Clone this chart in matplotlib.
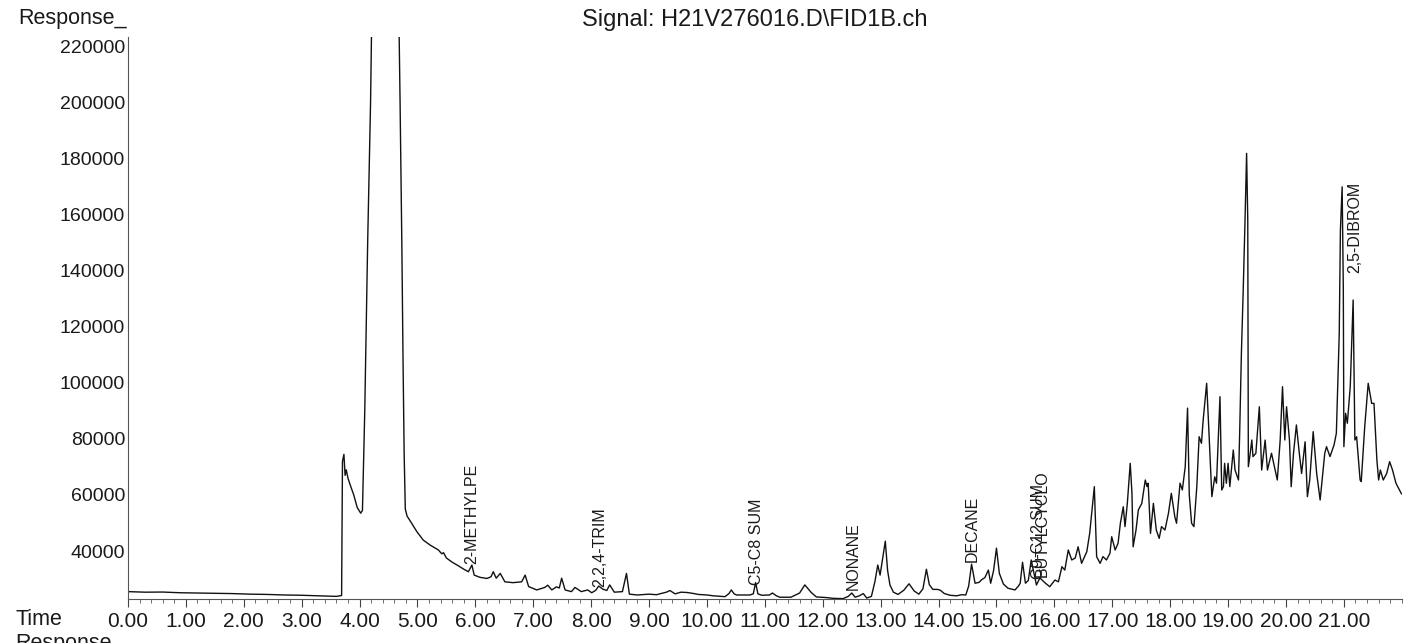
import matplotlib
matplotlib.use("Agg")
import matplotlib.pyplot as plt
from matplotlib.ticker import MultipleLocator, FuncFormatter

plt.rcParams['font.family'] = ['Liberation Sans', 'DejaVu Sans']

# Chromatogram trace: retention time (min) and response
times = [
    0.00, 0.30, 0.60, 0.90, 1.20, 1.50, 1.80, 2.10, 2.40, 2.70, 3.00, 3.30, 3.60, 3.69,
    3.705, 3.73, 3.75, 3.77, 3.80, 3.84, 3.90, 3.96, 4.02, 4.05, 4.09, 4.14, 4.19, 4.23,
    4.45, 4.66, 4.70, 4.73, 4.75, 4.77, 4.79,
    4.82, 4.90, 4.99, 5.10, 5.22, 5.36, 5.42, 5.45, 5.50, 5.60, 5.70, 5.80, 5.88, 5.94,
    5.98, 6.08, 6.20, 6.27, 6.31, 6.36, 6.43, 6.51, 6.65, 6.80, 6.86, 6.92, 7.06, 7.20,
    7.25, 7.32, 7.40, 7.45, 7.49, 7.55, 7.66, 7.72, 7.83, 7.94, 8.01, 8.08, 8.13, 8.20,
    8.27, 8.32, 8.40, 8.54, 8.61, 8.66, 8.80, 9.00, 9.13, 9.22, 9.30, 9.36, 9.45, 9.55,
    9.65, 9.75, 9.85, 10.00, 10.11, 10.31, 10.38, 10.42, 10.47, 10.51, 10.74, 10.80,
    10.84, 10.88, 10.95, 11.08, 11.13, 11.20, 11.26, 11.45, 11.60, 11.69, 11.80, 11.89,
    12.05, 12.18, 12.35, 12.44, 12.50, 12.56, 12.63, 12.70, 12.76, 12.84, 12.90, 12.95,
    12.99, 13.04, 13.08, 13.12, 13.16, 13.22, 13.30, 13.40, 13.49, 13.58, 13.66, 13.73,
    13.79, 13.84, 13.90, 13.98, 14.03, 14.10, 14.20, 14.31, 14.40, 14.47, 14.52, 14.57,
    14.63, 14.70, 14.74, 14.80, 14.86, 14.90, 14.95, 15.00, 15.05, 15.12, 15.20, 15.32,
    15.38, 15.41, 15.45, 15.50, 15.55, 15.60, 15.69, 15.75, 15.84, 15.92, 16.01, 16.07,
    16.13, 16.18, 16.24, 16.30, 16.36, 16.41, 16.47, 16.56, 16.61, 16.69, 16.73, 16.79,
    16.84, 16.90, 16.96, 16.99, 17.05, 17.10, 17.14, 17.19, 17.22, 17.26, 17.31, 17.34,
    17.36, 17.41, 17.45, 17.51, 17.57, 17.60, 17.62, 17.66, 17.71, 17.76, 17.81, 17.85,
    17.91, 17.97, 18.02, 18.08, 18.11, 18.17, 18.21, 18.26, 18.30, 18.33, 18.37, 18.41,
    18.46, 18.50, 18.54, 18.57, 18.63, 18.66, 18.72, 18.77, 18.80, 18.86, 18.89, 18.92,
    18.94, 18.97, 19.00, 19.03, 19.09, 19.12, 19.18, 19.20, 19.23, 19.26, 19.29, 19.32,
    19.34, 19.35, 19.38, 19.41, 19.43, 19.48, 19.54, 19.58, 19.64, 19.68, 19.75, 19.85,
    19.90, 19.94, 19.98, 20.01, 20.06, 20.09, 20.13, 20.18, 20.23, 20.27, 20.33, 20.37,
    20.41, 20.47, 20.53, 20.59, 20.63, 20.67, 20.70, 20.76, 20.83, 20.87, 20.92, 20.94,
    20.97, 20.99, 21.00, 21.03, 21.06, 21.11, 21.16, 21.19, 21.22, 21.28, 21.30, 21.33,
    21.36, 21.42, 21.48, 21.52, 21.57, 21.60, 21.63, 21.68, 21.74, 21.79, 21.84, 21.90,
    21.99, 22.05,
]
response = [
    25500, 25300, 25350, 25100, 25000, 24900, 24800, 24600, 24500, 24300, 24200, 24000, 23800, 24100,
    72000, 74500, 67000, 69000, 66000, 63500, 60000, 55500, 53500, 54500, 90000, 150000, 200000, 260000,
    900000, 260000, 200000, 150000, 110000, 75000, 55000,
    52500, 49900, 46900, 43900, 42100, 40400, 39000, 39400, 37500, 36000, 34800, 33500, 32600, 35000,
    31400, 30600, 30200, 30800, 32600, 30300, 32000, 29000, 28700, 29000, 31400, 27300, 26100, 27000,
    27800, 26100, 27200, 26800, 30300, 26100, 25500, 27000, 25500, 26100, 25100, 26000, 27500, 26400,
    25900, 27900, 25300, 25500, 32000, 24600, 24300, 24600, 24400, 24900, 25300, 25900, 24700, 25300,
    25200, 24900, 24500, 24300, 24000, 23700, 24800, 26100, 24700, 24300, 24300, 24700,
    28700, 24700, 24200, 24300, 25000, 24000, 23500, 23500, 25000, 27900, 25200, 23600,
    23400, 23100, 23000, 23800, 25000, 23500, 24000, 24800, 23200, 23800, 29000, 35000,
    31400, 38000, 43500, 33000, 27900, 25300, 24500, 26000, 28300, 25700, 24600, 26500,
    33500, 28000, 26300, 26300, 26000, 24800, 24200, 24000, 24400, 24300, 27500, 35300,
    28500, 28800, 29700, 30500, 33200, 28500, 33000, 41000, 32000, 28200, 26700, 26100,
    27500, 28500, 36000, 28500, 29500, 36800, 27860, 30400, 28600, 27260, 29650, 29000,
    34400, 33200, 40360, 36800, 37500, 41500, 35600, 39750, 46300, 62950, 37970, 35600,
    38000, 36800, 39200, 45100, 40360, 42750, 49900, 55800, 48700, 57000, 71300, 60600,
    41500, 47500, 54640, 57000, 65350, 63000, 64200, 46300, 57000, 47500, 44500, 48700,
    47500, 53450, 60600, 52250, 49900, 64200, 61800, 70100, 91000, 60000, 49900, 48700,
    63000, 80800, 78450, 86770, 99870, 86770, 59400, 66500, 64200, 95100, 61780, 63000,
    71300, 64170, 71300, 63000, 76060, 68900, 65350, 82000, 110580, 132000, 155800, 181950,
    158200, 70100, 74500, 79630, 73700, 74900, 91500, 68900, 79600, 68900, 74900, 65350,
    79630, 98650, 79630, 91500, 79630, 62950, 74900, 85000, 74900, 67700, 79000, 59400,
    65350, 82600, 67700, 58200, 66500, 74900, 77240, 73700, 77850, 82000, 117700, 154600,
    170000, 134350, 77240, 89160, 85600, 98650, 129600, 79630, 80800, 65350, 64800, 74900,
    84400, 99870, 92700, 92700, 72500, 65350, 68900, 65350, 67700, 71900, 68900, 64170,
    60600, 59400,
]

# Peak annotations: name, retention time, response where the label starts
peak_names = ['2-METHYLPE', '2,2,4-TRIM', 'C5-C8 SUM', 'NONANE', 'DECANE',
              'C9-C12 SUM', 'BUTYLCYCLO', '2,5-DIBROM']
peak_times = [5.94, 8.15, 10.86, 12.52, 14.58, 15.72, 15.79, 21.19]
peak_label_base = [35500, 27150, 27860, 26080, 36070, 30000, 30700, 139250]

x_ticks = [float(i) for i in range(22)]
y_ticks = [40000, 60000, 80000, 100000, 120000, 140000, 160000, 180000, 200000, 220000]

fig = plt.figure(figsize=(14.06, 6.43), dpi=100)
ax = fig.add_axes([0.091, 0.0684, 0.906, 0.8741])

ax.plot(times, response, color='#111111', linewidth=1.0)
ax.set_xlim(0, 22)
ax.set_ylim(22860, 223500)

for name, t, base in zip(peak_names, peak_times, peak_label_base):
    ax.text(t, base, name, rotation=90, ha='center', va='bottom',
            fontsize=11.5, color='#1a1a1a')

ax.set_xticks(x_ticks)
ax.xaxis.set_major_formatter(FuncFormatter(lambda v, p: f"{v:.2f}"))
ax.xaxis.set_minor_locator(MultipleLocator(0.2))
ax.set_yticks(y_ticks)
ax.yaxis.set_major_formatter(FuncFormatter(lambda v, p: f"{int(v)}"))

ax.tick_params(axis='x', which='major', length=6, width=0.8, pad=3,
               labelsize=15, color='#444444', labelcolor='#1a1a1a')
ax.tick_params(axis='x', which='minor', length=3, width=0.6, color='#555555')
ax.tick_params(axis='y', which='major', length=0, pad=2, labelsize=14,
               labelcolor='#1a1a1a')

for side in ['top', 'right']:
    ax.spines[side].set_visible(False)
for side in ['left', 'bottom']:
    ax.spines[side].set_color('#555555')
    ax.spines[side].set_linewidth(0.8)

fig.text(0.0128, 0.972, 'Response_', fontsize=15.5, va='center', ha='left', color='#1a1a1a')
fig.text(0.537, 0.969, 'Signal: H21V276016.D\\FID1B.ch', fontsize=17,
         va='center', ha='center', color='#1a1a1a')
fig.text(0.0107, 0.0358, 'Time', fontsize=15.5, va='center', ha='left', color='#1a1a1a')
fig.text(0.0107, 0.0155, 'Response_', fontsize=15.5, va='top', ha='left', color='#1a1a1a')

fig.savefig('out.png', dpi=100)
